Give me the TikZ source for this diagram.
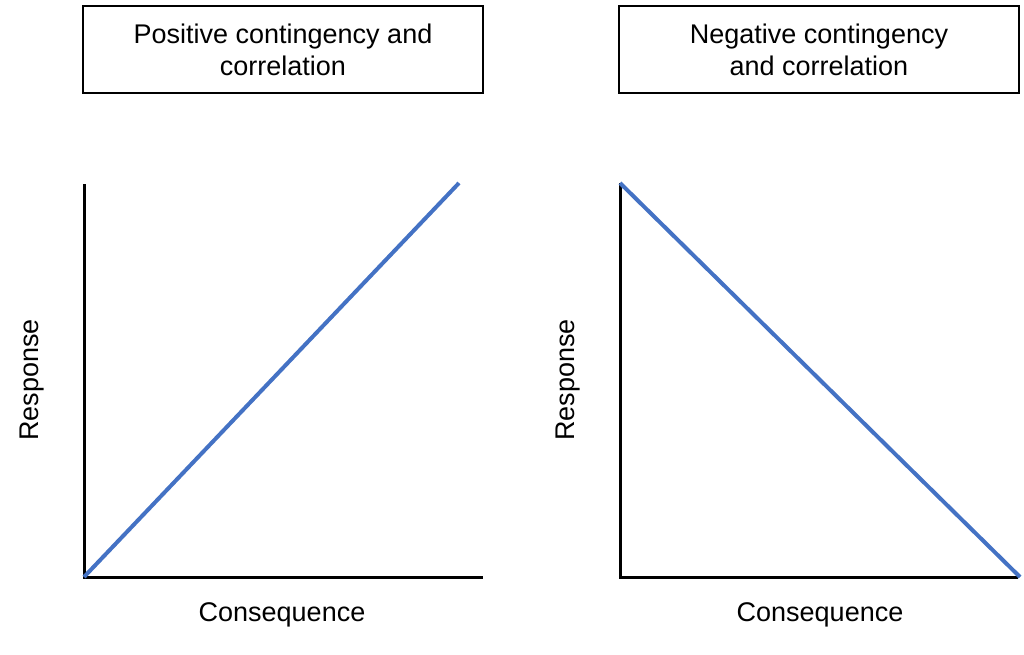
\documentclass[tikz,border=0pt]{standalone}
\usepackage{fontspec}
\setmainfont{Liberation Sans}
\begin{document}
\begin{tikzpicture}[x=1pt,y=-1pt,
  titlebox/.style={draw=black,line width=2.5pt,minimum width=400pt,minimum height=87pt,align=center,font=\fontsize{27}{32}\selectfont,inner sep=0pt},
  axis/.style={line width=3pt,black},
  trend/.style={line width=4pt,color=trendblue},
  lab/.style={font=\fontsize{27}{32}\selectfont}]
\definecolor{trendblue}{HTML}{4472C4}
\useasboundingbox (0,0) rectangle (1024,655);
\node[titlebox] (t1) at (283,49.5) {Positive contingency and\\correlation};
\node[titlebox] (t2) at (819,49.5) {Negative contingency\\and correlation};
% left plot
\coordinate (o1) at (84,577);
\coordinate (y1) at (84,184);
\coordinate (x1) at (483,577);
\coordinate (e1) at (459,183);
\draw[axis] (y1) -- (o1) -- (x1);
\draw[trend] (o1) -- (e1);
\node[lab,rotate=90] (r1) at (32,380) {Response};
\node[lab] (c1) at (282,615) {Consequence};
% right plot
\coordinate (o2) at (620,577);
\coordinate (y2) at (620,183);
\coordinate (x2) at (1018,577);
\coordinate (e2) at (1020,577);
\draw[axis] (y2) -- (o2) -- (x2);
\draw[trend] (y2) -- (e2);
\node[lab,rotate=90] (r2) at (568,380) {Response};
\node[lab] (c2) at (820,615) {Consequence};
\end{tikzpicture}
\end{document}
